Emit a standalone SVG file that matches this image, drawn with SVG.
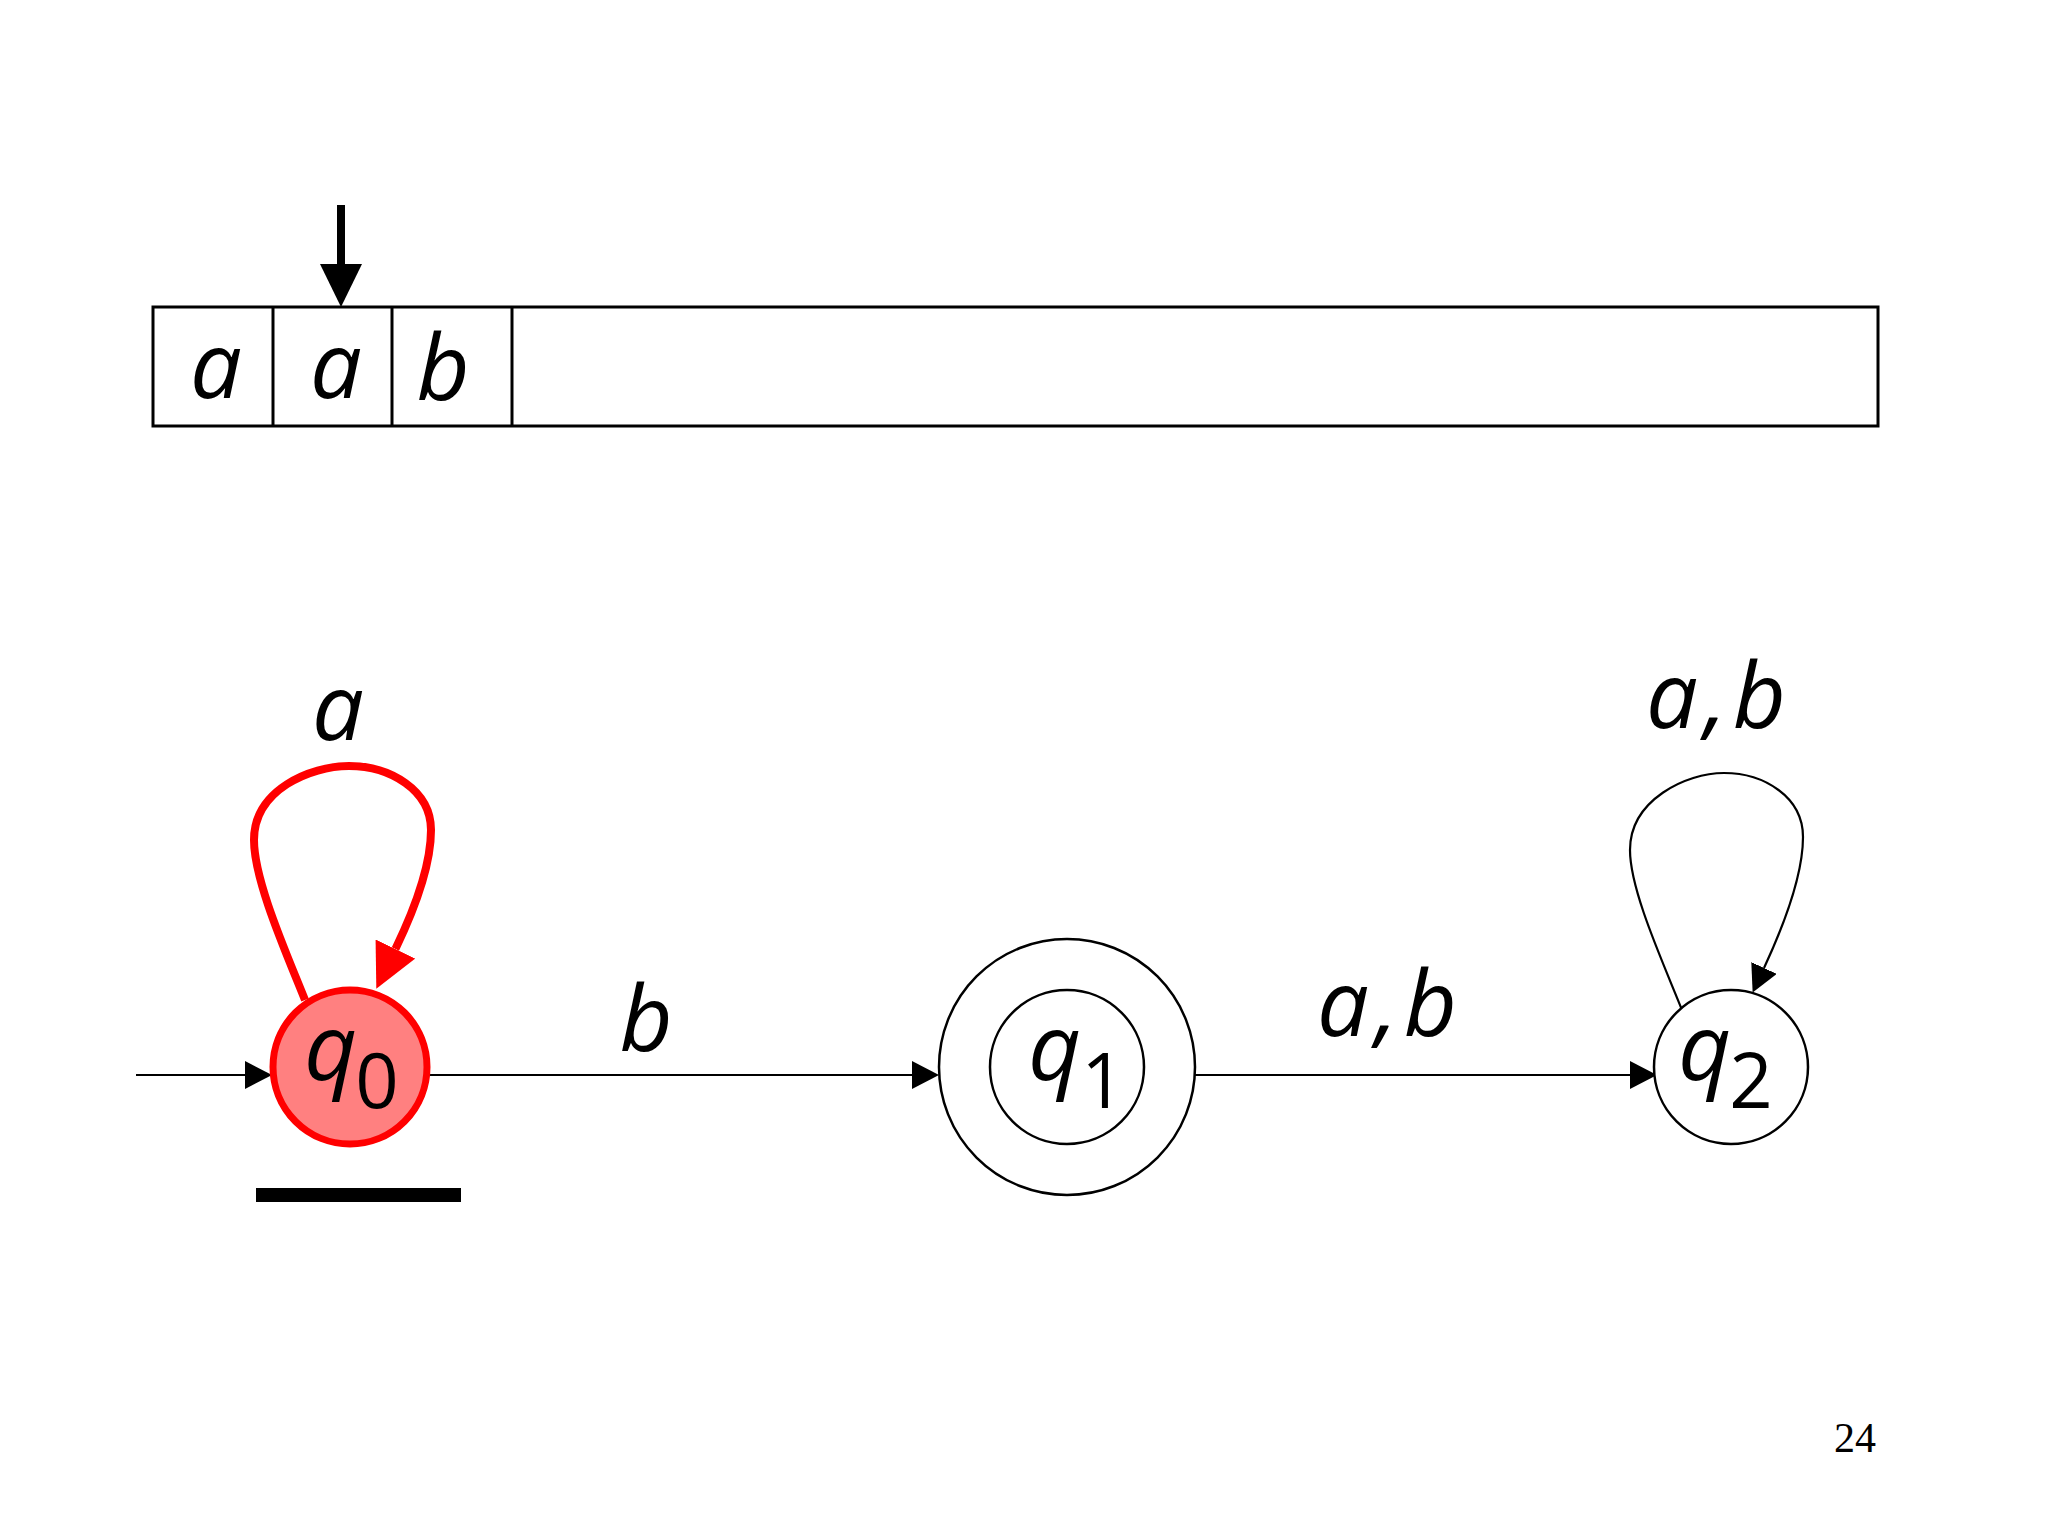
<svg xmlns="http://www.w3.org/2000/svg" width="2048" height="1536" viewBox="0 0 2048 1536">
<defs>
<style>
.lbl{font-family:"Open Sans","DejaVu Sans",sans-serif;font-style:italic;font-size:92px;fill:#000}
.sub{font-size:76px;font-style:normal}
.cell{fill:none;stroke:#000;stroke-width:3}
.node{fill:#fff;stroke:#000;stroke-width:2.5}
.edge{fill:none;stroke:#000;stroke-width:2.2}
.red{fill:none;stroke:#f00;stroke-width:8}
</style>
<marker id="arr" markerUnits="userSpaceOnUse" viewBox="0 0 27 28" markerWidth="27" markerHeight="28" refX="0" refY="14" orient="auto"><path d="M0,0 L27,14 L0,28 z" fill="#000"/></marker>
<marker id="arrRed" markerUnits="userSpaceOnUse" viewBox="0 0 44 44" markerWidth="44" markerHeight="44" refX="0" refY="22" orient="auto"><path d="M0,0 L44,22 L0,44 z" fill="#f00"/></marker>
</defs>
<rect width="2048" height="1536" fill="#fff"/>
<g id="tape">
<rect class="cell" x="153" y="307" width="1725" height="119"/>
<line class="cell" x1="273" y1="307" x2="273" y2="426"/>
<line class="cell" x1="392" y1="307" x2="392" y2="426"/>
<line class="cell" x1="512" y1="307" x2="512" y2="426"/>
<text class="lbl" x="216" y="398" text-anchor="middle">a</text>
<text class="lbl" x="336" y="398" text-anchor="middle">a</text>
<text class="lbl" x="443" y="400" text-anchor="middle">b</text>
</g>
<g id="head">
<rect x="337" y="205" width="8" height="62" fill="#000"/>
<polygon points="320,264 362,264 341,307" fill="#000"/>
</g>
<g id="connectors">
<path class="edge" d="M136 1075 H245" marker-end="url(#arr)"/>
<path class="edge" d="M429 1075 H912" marker-end="url(#arr)"/>
<path class="edge" d="M1195 1075 H1630" marker-end="url(#arr)"/>
<path class="red" d="M305 1000 C285 950 254 880 254 840 C254 790 310 766 349 766 C390 766 431 790 431 830 C431 860 419 900 395.4 949" marker-end="url(#arrRed)"/>
<path class="edge" d="M1682 1010 C1662 960 1630 890 1630 850 C1630 800 1686 773 1724 773 C1764 773 1803 797 1803 837 C1803 867 1790 912 1764 968" marker-end="url(#arr)"/>
<text class="lbl" x="338" y="740" text-anchor="middle">a</text>
<text class="lbl" x="646" y="1051" text-anchor="middle">b</text>
<text class="lbl" x="1390" y="1036" text-anchor="middle" letter-spacing="6">a,b</text>
<text class="lbl" x="1719" y="728" text-anchor="middle" letter-spacing="6">a,b</text>
</g>
<g id="q0">
<circle cx="350" cy="1067" r="77" fill="#ff8080" stroke="#f00" stroke-width="7"/>
<text class="lbl" x="304" y="1080">q<tspan class="sub" dx="-2" dy="28">0</tspan></text>
</g>
<rect id="marker-bar" x="256" y="1188" width="205" height="14" fill="#000"/>
<g id="q1">
<circle class="node" cx="1067" cy="1067" r="128"/>
<circle class="node" cx="1067" cy="1067" r="77"/>
<text class="lbl" x="1028" y="1080">q<tspan class="sub" dy="28">1</tspan></text>
</g>
<g id="q2">
<circle class="node" cx="1731" cy="1067" r="77"/>
<text class="lbl" x="1678" y="1080">q<tspan class="sub" dx="-2" dy="28">2</tspan></text>
</g>
<text x="1876" y="1452" text-anchor="end" font-family="Liberation Serif, serif" font-size="42">24</text>
</svg>
